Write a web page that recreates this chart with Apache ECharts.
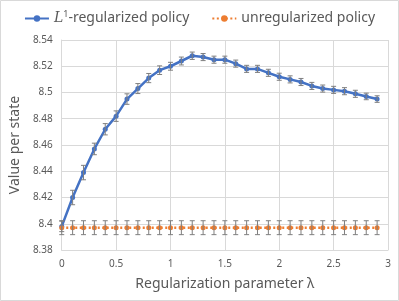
<!DOCTYPE html>
<html><head><meta charset="utf-8">
<script src="https://cdn.jsdelivr.net/npm/echarts@6/dist/echarts.min.js"></script>
<style>html,body{margin:0;padding:0;background:#fff}#c{width:399px;height:301px}</style>
</head><body><div id="c"></div>
<script>
const lambdas = [0,0.1,0.2,0.3,0.4,0.5,0.6,0.7,0.8,0.9,1.0,1.1,1.2,1.3,1.4,1.5,1.6,1.7,1.8,1.9,2.0,2.1,2.2,2.3,2.4,2.5,2.6,2.7,2.8,2.9];
const l1Values = [8.398,8.420,8.439,8.457,8.472,8.482,8.495,8.503,8.511,8.517,8.520,8.524,8.528,8.527,8.525,8.525,8.522,8.518,8.518,8.515,8.512,8.510,8.508,8.505,8.503,8.502,8.501,8.499,8.497,8.495];
const l1Errors = [0.004,0.0055,0.0055,0.0044,0.0043,0.004,0.004,0.0038,0.0035,0.0033,0.003,0.003,0.0028,0.0027,0.0027,0.0027,0.0027,0.0027,0.0027,0.0027,0.0027,0.0027,0.0027,0.0027,0.0027,0.0027,0.0027,0.0027,0.0025,0.0025];
const unregValues = [8.397,8.397,8.397,8.397,8.397,8.397,8.397,8.397,8.397,8.397,8.397,8.397,8.397,8.397,8.397,8.397,8.397,8.397,8.397,8.397,8.397,8.397,8.397,8.397,8.397,8.397,8.397,8.397,8.397,8.397];
const unregErrors = [0.0053,0.0053,0.0053,0.0053,0.0053,0.0053,0.0053,0.0053,0.0053,0.0053,0.0053,0.0053,0.0053,0.0053,0.0053,0.0053,0.0053,0.0053,0.0053,0.0053,0.0053,0.0053,0.0053,0.0053,0.0053,0.0053,0.0053,0.0053,0.0053,0.0053];
const xTicks = {min:0, max:3, interval:0.5};
const yTicks = {min:8.38, max:8.54, interval:0.02};
const seriesNames = ['L1-regularized policy','unregularized policy'];

const FONT = 'Noto Sans';
const TXT = '#595959';

function errData(vals, errs){
  return lambdas.map((x,i)=>[x, vals[i]-errs[i], vals[i]+errs[i]]);
}
function errRender(params, api){
  const x = api.value(0);
  const lo = api.coord([x, api.value(1)]);
  const hi = api.coord([x, api.value(2)]);
  const w = 2.5;
  const style = {stroke:'#7f7f7f', lineWidth:1};
  return {type:'group', children:[
    {type:'line', shape:{x1:lo[0],y1:lo[1],x2:hi[0],y2:hi[1]}, style},
    {type:'line', shape:{x1:lo[0]-w,y1:lo[1],x2:lo[0]+w,y2:lo[1]}, style},
    {type:'line', shape:{x1:hi[0]-w,y1:hi[1],x2:hi[0]+w,y2:hi[1]}, style}
  ]};
}

const chart = echarts.init(document.getElementById('c'), null, {renderer:'canvas'});
chart.setOption({
  animation:false,
  textStyle:{fontFamily:FONT},
  graphic:[{type:'rect', shape:{x:0.5,y:0.5,width:398,height:300}, style:{fill:'none', stroke:'#d9d9d9', lineWidth:1}, silent:true}],
  legend:{
    top:5, left:'center', itemGap:22, itemWidth:24, itemHeight:8,
    data:seriesNames,
    textStyle:{color:TXT, fontSize:14, fontFamily:FONT,
      rich:{i:{fontStyle:'italic', fontFamily:'DejaVu Serif', fontSize:14, color:TXT},
            s:{fontSize:9, color:TXT, padding:[0,0,8,0]}}},
    formatter:function(n){ return n===seriesNames[0] ? '{i|L}{s|1}-regularized policy' : n; }
  },
  grid:{left:60, right:11, top:40, bottom:51},
  xAxis:{type:'value', min:xTicks.min, max:xTicks.max, interval:xTicks.interval,
    name:'Regularization parameter λ', nameLocation:'middle', nameGap:27,
    nameTextStyle:{color:TXT, fontSize:14},
    axisLine:{show:true, lineStyle:{color:'#d9d9d9'}}, axisTick:{show:false},
    axisLabel:{color:TXT, fontSize:10, margin:9},
    splitLine:{show:true, lineStyle:{color:'#d9d9d9'}}},
  yAxis:{type:'value', min:yTicks.min, max:yTicks.max, interval:yTicks.interval,
    name:'Value per state', nameLocation:'middle', nameGap:38,
    nameTextStyle:{color:TXT, fontSize:14},
    axisLine:{show:true, lineStyle:{color:'#d9d9d9'}}, axisTick:{show:false},
    axisLabel:{color:TXT, fontSize:10, margin:9, formatter:v=>parseFloat(v.toFixed(2)).toString()},
    splitLine:{show:true, lineStyle:{color:'#d9d9d9'}}},
  series:[
    {name:seriesNames[0], type:'line', data:lambdas.map((x,i)=>[x,l1Values[i]]),
      symbol:'circle', symbolSize:5, itemStyle:{color:'#4472C4'},
      lineStyle:{color:'#4472C4', width:2.5}, z:3},
    {name:seriesNames[1], type:'line', data:lambdas.map((x,i)=>[x,unregValues[i]]),
      symbol:'circle', symbolSize:5, itemStyle:{color:'#ED7D31'},
      lineStyle:{color:'#ED7D31', width:2.5, type:[2,2.5]}, z:3},
    {type:'custom', renderItem:errRender, data:errData(l1Values,l1Errors), encode:{x:0,y:[1,2]}, z:4, silent:true},
    {type:'custom', renderItem:errRender, data:errData(unregValues,unregErrors), encode:{x:0,y:[1,2]}, z:4, silent:true}
  ]
});
</script></body></html>
